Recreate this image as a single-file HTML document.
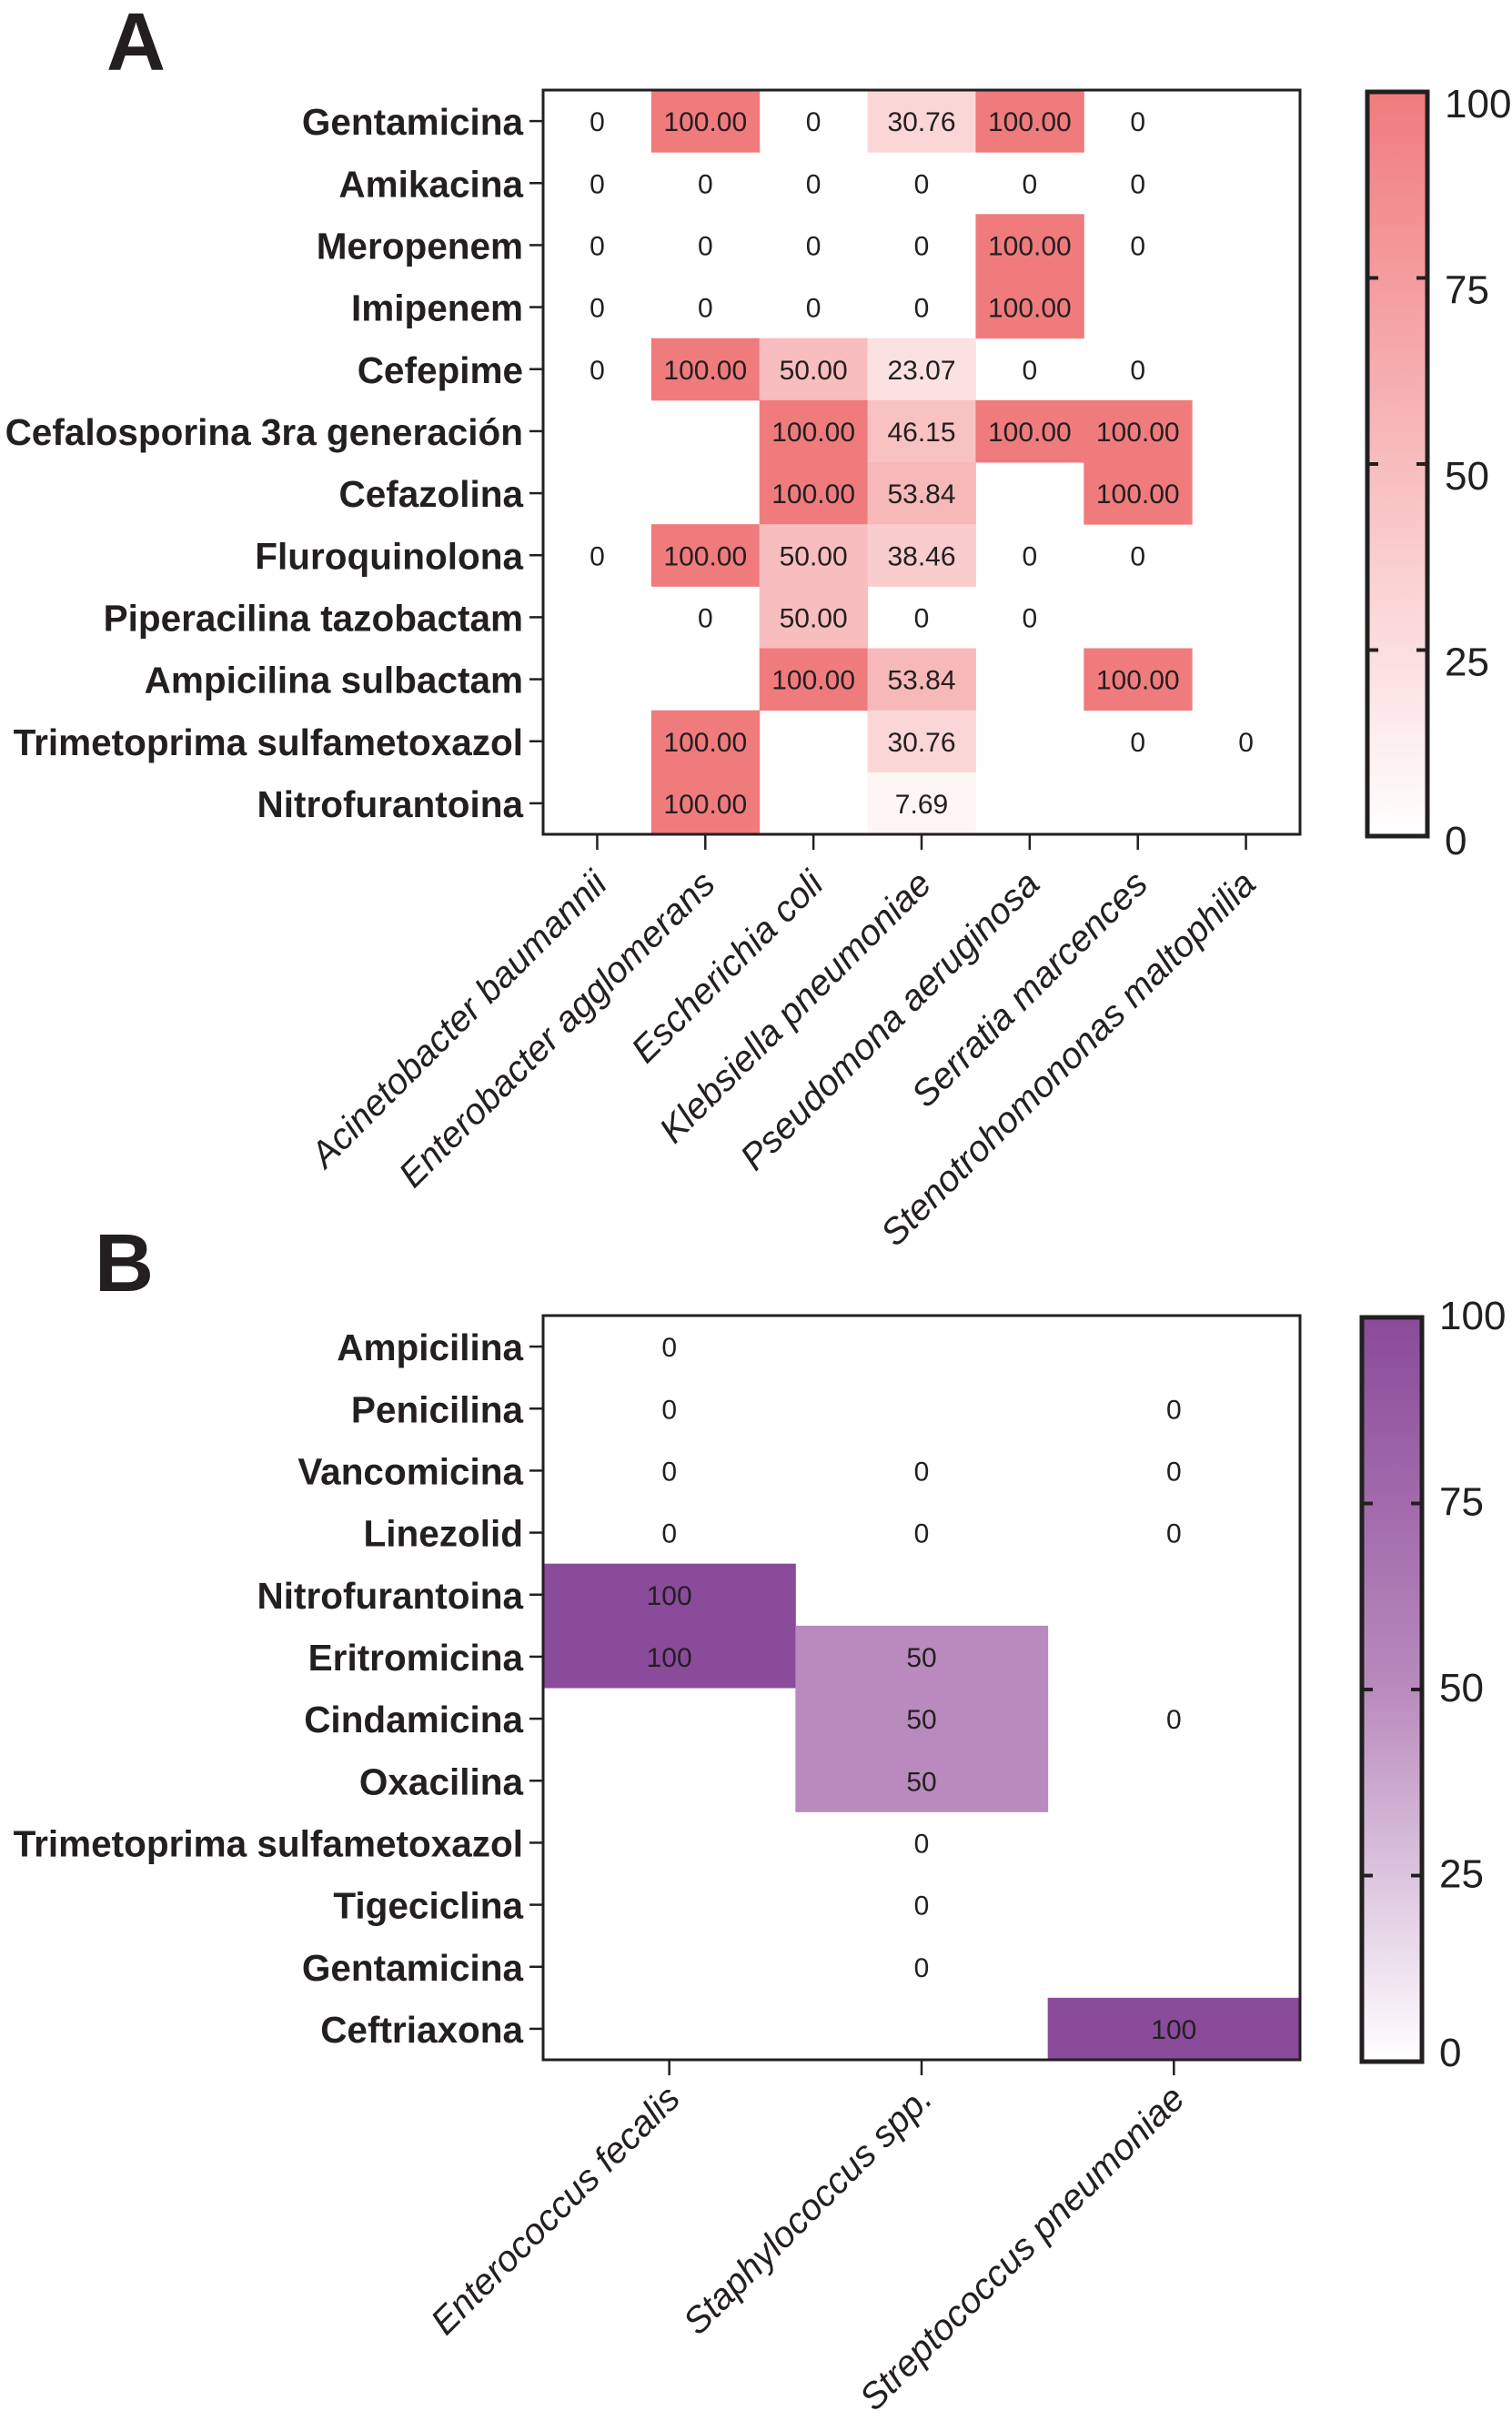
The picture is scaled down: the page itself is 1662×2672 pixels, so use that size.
<!DOCTYPE html>
<html><head><meta charset="utf-8"><style>
html,body{margin:0;padding:0;background:#fff;}
svg{display:block;font-family:"Liberation Sans",Arial,sans-serif;}
</style></head><body>
<svg id="fig" width="1662" height="2672" viewBox="0 0 1662 2672" xmlns="http://www.w3.org/2000/svg">
<defs>
<linearGradient id="gradA" x1="0" y1="1" x2="0" y2="0"><stop offset="0" stop-color="#ffffff"/><stop offset="1" stop-color="#f07b7d"/></linearGradient>
<linearGradient id="gradB" x1="0" y1="1" x2="0" y2="0"><stop offset="0" stop-color="#ffffff"/><stop offset="0.5" stop-color="#b98abd"/><stop offset="1" stop-color="#8a4b9a"/></linearGradient>
</defs>
<text x="117" y="77" font-size="90" font-weight="bold" fill="#231f20">A</text>
<text x="104" y="1419" font-size="90" font-weight="bold" fill="#231f20">B</text>
<g id="panelA"></g>
<g id="panelB"></g>
</svg>
<script>
const rowsA = ["Gentamicina","Amikacina","Meropenem","Imipenem","Cefepime","Cefalosporina 3ra generación","Cefazolina","Fluroquinolona","Piperacilina tazobactam","Ampicilina sulbactam","Trimetoprima sulfametoxazol","Nitrofurantoina"];
const colsA = ["Acinetobacter baumannii","Enterobacter agglomerans","Escherichia coli","Klebsiella pneumoniae","Pseudomona aeruginosa","Serratia marcences","Stenotrohomononas maltophilia"];
const valuesA = [
 [0,100,0,30.76,100,0,null],
 [0,0,0,0,0,0,null],
 [0,0,0,0,100,0,null],
 [0,0,0,0,100,null,null],
 [0,100,50,23.07,0,0,null],
 [null,null,100,46.15,100,100,null],
 [null,null,100,53.84,null,100,null],
 [0,100,50,38.46,0,0,null],
 [null,0,50,0,0,null,null],
 [null,null,100,53.84,null,100,null],
 [null,100,null,30.76,null,0,0],
 [null,100,null,7.69,null,null,null]
];
const rowsB = ["Ampicilina","Penicilina","Vancomicina","Linezolid","Nitrofurantoina","Eritromicina","Cindamicina","Oxacilina","Trimetoprima sulfametoxazol","Tigeciclina","Gentamicina","Ceftriaxona"];
const colsB = ["Enterococcus fecalis","Staphylococcus spp.","Streptococcus pneumoniae"];
const valuesB = [
 [0,null,null],
 [0,null,0],
 [0,0,0],
 [0,0,0],
 [100,null,null],
 [100,50,null],
 [null,50,0],
 [null,50,null],
 [null,0,null],
 [null,0,null],
 [null,0,null],
 [null,null,100]
];
const colorTicks = [0,25,50,75,100];

const NS="http://www.w3.org/2000/svg";
function mk(tag,attrs,parent,txt){const e=document.createElementNS(NS,tag);for(const k in attrs)e.setAttribute(k,attrs[k]);if(txt!==undefined)e.textContent=txt;parent.appendChild(e);return e;}
function lerp(a,b,t){return a.map((x,i)=>Math.round(x+(b[i]-x)*t));}
function colorFor(stops,v){
  const t=v/100, n=stops.length-1, k=Math.min(n-1,Math.floor(t*n)), f=t*n-k;
  const c=lerp(stops[k],stops[k+1],f);return `rgb(${c[0]},${c[1]},${c[2]})`;
}

function drawPanel(g,rows,cols,vals,opt){
  const L=597,R=1429,T=opt.top,B=opt.top+818;
  const cw=(R-L)/cols.length, rh=(B-T)/rows.length;
  const xc=i=>L+cw*(i+0.5), yc=j=>T+rh*(j+0.5);
  vals.forEach((row,j)=>row.forEach((v,i)=>{
    if(v===null)return;
    if(v>0){
      const r=mk('rect',{x:L+cw*i,y:T+rh*j,width:cw+0.5,height:rh+0.5,fill:colorFor(opt.stops,v)},g);
      
      
    }
    const t=mk('text',{x:xc(i),y:yc(j)+11,'text-anchor':'middle','font-size':30,fill:'#231f20'},g,v===0?'0':opt.fmt(v));
    
    
  }));
  const fr=mk('rect',{x:L,y:T,width:R-L,height:B-T,fill:'none',stroke:'#231f20','stroke-width':3},g);
  
  
  rows.forEach((n,j)=>{
    mk('line',{x1:L-15,x2:L,y1:yc(j),y2:yc(j),stroke:'#231f20','stroke-width':2.5},g);
    const t=mk('text',{x:L-22,y:yc(j)+15,'text-anchor':'end','font-size':40.5,'font-weight':'bold',fill:'#231f20'},g,n);
    
    
  });
  cols.forEach((n,i)=>{
    mk('line',{x1:xc(i),x2:xc(i),y1:B,y2:B+17,stroke:'#231f20','stroke-width':2.5},g);
    const px=xc(i)+opt.lx, py=B+opt.ly;
    const t=mk('text',{x:px,y:py,'text-anchor':'end','font-size':40,'font-style':'italic',fill:'#231f20',transform:`rotate(-45 ${px} ${py})`},g,n);
    
    
  });
  const cx=opt.cbx, cwid=66, cT=T+2, cB=B+2;
  const cb=mk('rect',{x:cx,y:cT,width:cwid,height:cB-cT,fill:`url(#${opt.grad})`,stroke:'#231f20','stroke-width':5},g);
  
  
  const sy=v=>cB-(cB-cT)*v/100;
  colorTicks.forEach(v=>{
    if(v>0&&v<100){
      mk('line',{x1:cx,x2:cx+12,y1:sy(v),y2:sy(v),stroke:'#231f20','stroke-width':4},g);
      mk('line',{x1:cx+cwid-12,x2:cx+cwid,y1:sy(v),y2:sy(v),stroke:'#231f20','stroke-width':4},g);
    }
    const t=mk('text',{x:cx+cwid+19,y:sy(v)+(v===0?20:28)+opt.lblDy,'font-size':44,fill:'#231f20'},g,String(v));
    
    
  });
}
drawPanel(document.getElementById('panelA'),rowsA,colsA,valuesA,{top:99,stops:[[255,255,255],[240,123,125]],grad:'gradA',cbx:1503,fmt:v=>v.toFixed(2),lx:13,ly:57,lblDy:0});
drawPanel(document.getElementById('panelB'),rowsB,colsB,valuesB,{top:1446,stops:[[255,255,255],[185,138,189],[138,75,154]],grad:'gradB',cbx:1497,fmt:v=>String(v),lx:14,ly:45,lblDy:-15});
</script>
</body></html>
